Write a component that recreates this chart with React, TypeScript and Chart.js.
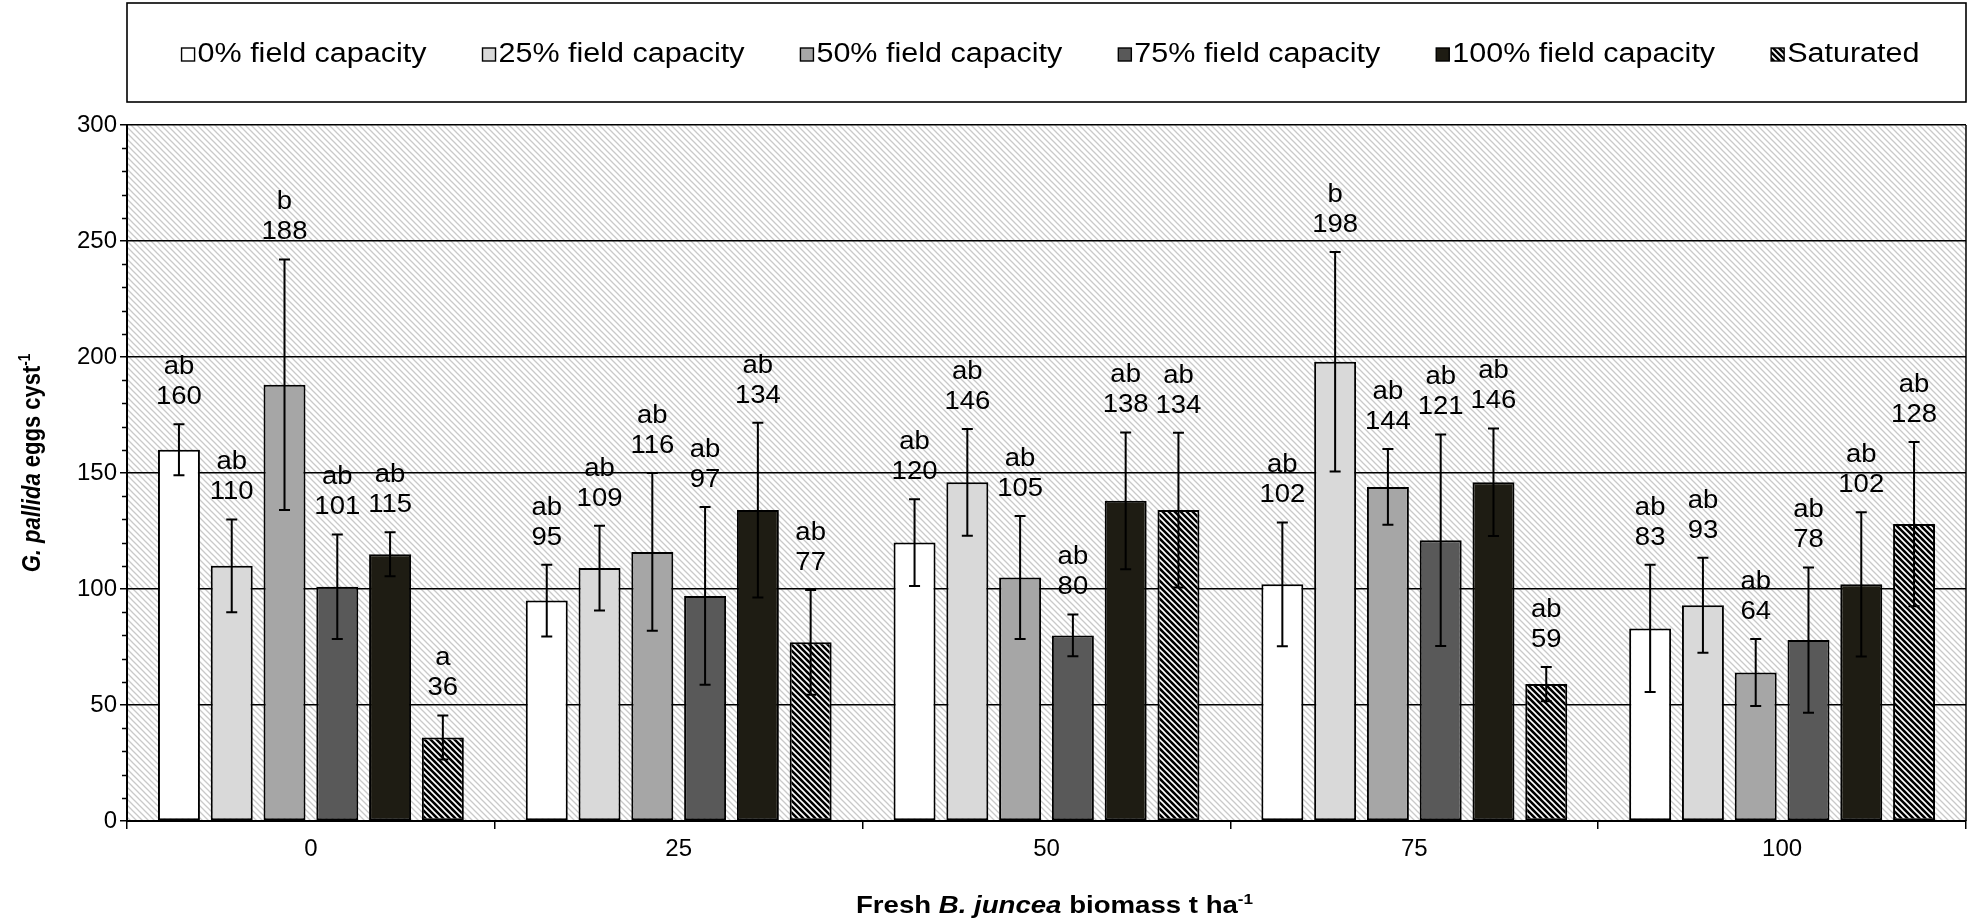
import React, { useEffect, useRef } from "react";
import { Chart, registerables } from "chart.js";

Chart.register(...registerables);

const FONT = "'Liberation Sans', Arial, sans-serif";

// ---------- data ----------
const categories = ["0", "25", "50", "75", "100"];
const seriesNames = [
  "0% field capacity",
  "25% field capacity",
  "50% field capacity",
  "75% field capacity",
  "100% field capacity",
  "Saturated",
];

const fc0 = [160, 95, 120, 102, 83];
const fc25 = [110, 109, 146, 198, 93];
const fc50 = [188, 116, 105, 144, 64];
const fc75 = [101, 97, 80, 121, 78];
const fc100 = [115, 134, 138, 146, 102];
const saturated = [36, 77, 134, 59, 128];

const err0 = [11, 15.5, 18.7, 26.7, 27.4];
const err25 = [20, 18.3, 23, 47.3, 20.5];
const err50 = [54, 34, 26.5, 16.3, 14.4];
const err75 = [22.5, 38.3, 9, 45.6, 31.3];
const err100 = [9.5, 37.7, 29.5, 23.2, 31.1];
const errSat = [9.5, 22.6, 33.4, 7.4, 35.4];

const let0 = ["ab", "ab", "ab", "ab", "ab"];
const let25 = ["ab", "ab", "ab", "b", "ab"];
const let50 = ["b", "ab", "ab", "ab", "ab"];
const let75 = ["ab", "ab", "ab", "ab", "ab"];
const let100 = ["ab", "ab", "ab", "ab", "ab"];
const letSat = ["a", "ab", "ab", "ab", "ab"];

const yMin = 0;
const yMax = 300;
const yStep = 50;
const yMinorStep = 10;

const values = [fc0, fc25, fc50, fc75, fc100, saturated];
const errors = [err0, err25, err50, err75, err100, errSat];
const letters = [let0, let25, let50, let75, let100, letSat];

// ---------- helpers ----------
function makeHatch(bg: string, fg: string, size: number, lw: number) {
  const c = document.createElement("canvas");
  c.width = size;
  c.height = size;
  const x = c.getContext("2d")!;
  x.fillStyle = bg;
  x.fillRect(0, 0, size, size);
  x.strokeStyle = fg;
  x.lineWidth = lw;
  x.beginPath();
  x.moveTo(-1, -1);
  x.lineTo(size + 1, size + 1);
  x.moveTo(-2, size - 2);
  x.lineTo(2, size + 2);
  x.moveTo(size - 2, -2);
  x.lineTo(size + 2, 2);
  x.stroke();
  return x.createPattern(c, "repeat")!;
}

function stretchedText(
  ctx: CanvasRenderingContext2D,
  text: string,
  x: number,
  y: number,
  sx: number
) {
  ctx.save();
  ctx.translate(x, y);
  ctx.scale(sx, 1);
  ctx.fillText(text, 0, 0);
  ctx.restore();
}

type Piece = { t: string; style: string; sup?: boolean };

function drawRich(
  ctx: CanvasRenderingContext2D,
  pieces: Piece[],
  cx: number,
  cy: number,
  size: number,
  sx: number
) {
  const widths = pieces.map((p) => {
    const s = p.sup ? size * 0.62 : size;
    ctx.font = `${p.style} ${s}px ${FONT}`;
    return ctx.measureText(p.t).width * sx;
  });
  const total = widths.reduce((a, b) => a + b, 0);
  let x = cx - total / 2;
  ctx.textAlign = "left";
  ctx.textBaseline = "alphabetic";
  ctx.fillStyle = "#000";
  const base = cy + size * 0.35;
  pieces.forEach((p, i) => {
    const s = p.sup ? size * 0.62 : size;
    ctx.font = `${p.style} ${s}px ${FONT}`;
    stretchedText(ctx, p.t, x, p.sup ? base - size * 0.4 : base, sx);
    x += widths[i];
  });
}

export default function App() {
  const ref = useRef<HTMLCanvasElement>(null);

  useEffect(() => {
    document.body.style.margin = "0";
    const canvas = ref.current!;
    const bgPattern = makeHatch("#ffffff", "#c9c9c9", 6, 1.3);
    const satPattern = makeHatch("#000000", "#ffffff", 6, 1.6);
    const fills: (string | CanvasPattern)[] = [
      "#ffffff",
      "#d9d9d9",
      "#a6a6a6",
      "#595959",
      "#1e1c13",
      satPattern,
    ];

    const bgPlugin = {
      id: "bgHatch",
      beforeDraw(chart: any) {
        const { ctx, chartArea: a } = chart;
        ctx.save();
        ctx.fillStyle = bgPattern;
        ctx.fillRect(a.left, a.top, a.right - a.left, a.bottom - a.top);
        ctx.restore();
      },
      beforeDatasetsDraw(chart: any) {
        const { ctx, chartArea: a } = chart;
        ctx.save();
        ctx.strokeStyle = "#000";
        ctx.lineWidth = 1.5;
        ctx.beginPath();
        ctx.moveTo(a.right, a.top);
        ctx.lineTo(a.right, a.bottom);
        ctx.stroke();
        ctx.restore();
      },
    };

    const overlayPlugin = {
      id: "overlay",
      afterDatasetsDraw(chart: any) {
        const { ctx } = chart;
        const ys = chart.scales.y;
        ctx.save();
        // error bars
        ctx.strokeStyle = "#000";
        ctx.lineWidth = 2;
        values.forEach((vals, di) => {
          const meta = chart.getDatasetMeta(di);
          vals.forEach((v, j) => {
            const bar = meta.data[j];
            const e = errors[di][j];
            const yt = ys.getPixelForValue(v + e);
            const yb = ys.getPixelForValue(v - e);
            const x = bar.x;
            ctx.beginPath();
            ctx.moveTo(x, yt);
            ctx.lineTo(x, yb);
            ctx.moveTo(x - 5.5, yt);
            ctx.lineTo(x + 5.5, yt);
            ctx.moveTo(x - 5.5, yb);
            ctx.lineTo(x + 5.5, yb);
            ctx.stroke();
          });
        });
        // labels
        ctx.fillStyle = "#000";
        ctx.textAlign = "center";
        ctx.textBaseline = "middle";
        ctx.font = `25px ${FONT}`;
        values.forEach((vals, di) => {
          const meta = chart.getDatasetMeta(di);
          vals.forEach((v, j) => {
            const bar = meta.data[j];
            const yt = ys.getPixelForValue(v + errors[di][j]);
            stretchedText(ctx, String(v), bar.x, yt - 27, 1.1);
            stretchedText(ctx, letters[di][j], bar.x, yt - 57, 1.1);
          });
        });
        ctx.restore();
      },
      afterDraw(chart: any) {
        const { ctx, chartArea: a } = chart;
        const ys = chart.scales.y;
        ctx.save();
        // minor ticks
        ctx.strokeStyle = "#000";
        ctx.lineWidth = 1.3;
        ctx.beginPath();
        for (let v = yMin + yMinorStep; v < yMax; v += yMinorStep) {
          if (v % yStep === 0) continue;
          const y = Math.round(ys.getPixelForValue(v)) + 0.5;
          ctx.moveTo(a.left - 5, y);
          ctx.lineTo(a.left, y);
        }
        ctx.stroke();

        // legend box
        const top = 3;
        const bottom = 102;
        ctx.lineWidth = 1.6;
        ctx.strokeStyle = "#000";
        ctx.strokeRect(a.left, top, a.right - a.left, bottom - top);
        const fs = 27;
        const sx = 1.13;
        const box = 13;
        const gapBox = 3;
        const gapItem = 56;
        ctx.font = `${fs}px ${FONT}`;
        const widths = seriesNames.map(
          (n) => box + gapBox + ctx.measureText(n).width * sx
        );
        const total =
          widths.reduce((p, c) => p + c, 0) + gapItem * (seriesNames.length - 1);
        let x = (a.left + a.right) / 2 - total / 2 + 4;
        const cy = (top + bottom) / 2 + 2;
        seriesNames.forEach((n, i) => {
          ctx.fillStyle = fills[i] as any;
          ctx.fillRect(x, cy - box / 2, box, box);
          ctx.lineWidth = 1.4;
          ctx.strokeStyle = "#000";
          ctx.strokeRect(x, cy - box / 2, box, box);
          ctx.fillStyle = "#000";
          ctx.textAlign = "left";
          ctx.textBaseline = "middle";
          stretchedText(ctx, n, x + box + gapBox, cy, sx);
          x += widths[i] + gapItem;
        });

        // x title
        drawRich(
          ctx,
          [
            { t: "Fresh ", style: "bold" },
            { t: "B. juncea", style: "italic bold" },
            { t: " biomass t ha", style: "bold" },
            { t: "-1", style: "bold", sup: true },
          ],
          (a.left + a.right) / 2 + 8,
          905,
          24,
          1.15
        );

        // y title
        ctx.save();
        ctx.translate(31, (a.top + a.bottom) / 2 - 10);
        ctx.rotate(-Math.PI / 2);
        ctx.scale(1, 1.15);
        drawRich(
          ctx,
          [
            { t: "G. pallida", style: "italic bold" },
            { t: " eggs cyst", style: "bold" },
            { t: "-1", style: "bold", sup: true },
          ],
          0,
          0,
          22,
          1
        );
        ctx.restore();
        ctx.restore();
      },
    };

    const chart = new Chart(canvas, {
      type: "bar",
      data: {
        labels: categories,
        datasets: values.map((vals, i) => ({
          label: seriesNames[i],
          data: vals,
          backgroundColor: fills[i] as any,
          borderColor: "#000",
          borderWidth: 2,
          borderSkipped: false as any,
          barPercentage: 0.795,
          categoryPercentage: 0.861,
        })),
      },
      options: {
        responsive: false,
        animation: false,
        layout: { padding: { top: 125, right: 2, left: 0, bottom: 0 } },
        plugins: {
          legend: { display: false },
          tooltip: { enabled: false },
          title: { display: false },
        },
        scales: {
          x: {
            type: "category",
            grid: {
              display: true,
              drawOnChartArea: false,
              offset: true,
              tickLength: 8,
              color: "#000",
              lineWidth: 1.5,
            },
            border: { display: true, color: "#000", width: 2 },
            ticks: {
              color: "#000",
              font: { family: FONT, size: 24 },
              padding: 6,
            },
            afterFit(scale: any) {
              scale.height = 100;
            },
          },
          y: {
            min: yMin,
            max: yMax,
            ticks: {
              stepSize: yStep,
              color: "#000",
              font: { family: FONT, size: 24 },
              padding: 3,
            },
            grid: {
              color: "#000",
              lineWidth: 1.5,
              tickLength: 7,
              tickColor: "#000",
              tickWidth: 1.5,
            },
            border: { display: true, color: "#000", width: 2 },
            afterFit(scale: any) {
              scale.width = 127;
            },
          },
        },
      },
      plugins: [bgPlugin, overlayPlugin],
    });

    return () => chart.destroy();
  }, []);

  return (
    <div style={{ width: 1968, height: 921, background: "#fff" }}>
      <canvas
        ref={ref}
        width={1968}
        height={921}
        style={{ display: "block", width: 1968, height: 921 }}
      />
    </div>
  );
}
